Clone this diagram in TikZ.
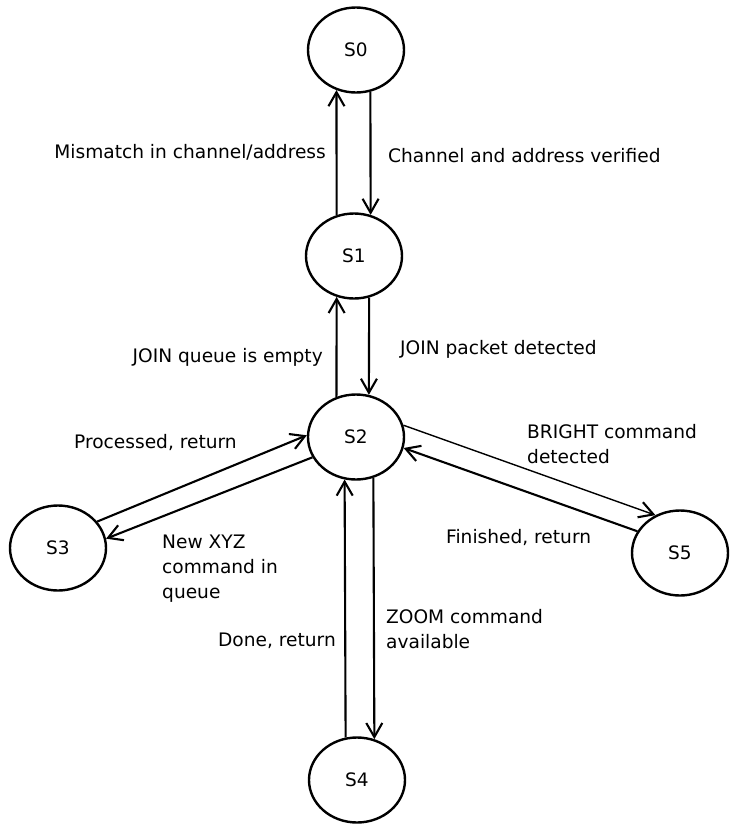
\documentclass[tikz,border=0pt]{standalone}
\usepackage{fontspec}
\setmainfont{DejaVu Sans}
\usetikzlibrary{shapes.geometric,arrows.meta}

\begin{document}
\begin{tikzpicture}[x = 1pt, y = -1pt,
		state/.style = {ellipse, draw, line width = 2.4pt, minimum width = 96pt, minimum height = 85pt, inner sep = 0pt, font = \fontsize{18.5}{20}\selectfont},
		trans/.style = {line width = 2.1pt, -{Straight Barb[length = 14pt, width = 16pt, line width = 2.1pt]}},
		lbl/.style = {inner sep = 0pt, font = \fontsize{18.6}{25}\selectfont, align = left}]
	\useasboundingbox (0, 0) rectangle (739, 833);
	\node[state] (s0) at (356, 50) {S0};
	\node[state] (s1) at (354, 256) {S1};
	\node[state] (s2) at (356, 437) {S2};
	\node[state] (s3) at (58, 548) {S3};
	\node[state] (s4) at (357, 780) {S4};
	\node[state] (s5) at (680, 553) {S5};
	\draw[trans] (s0.-71) -- (s1.68);
	\draw[trans] (s1.113) -- (s0.-116);
	\draw[trans] (s1.-70) -- (s2.73);
	\draw[trans] (s2.116) -- (s1.-113);
	\draw[trans] (s2.-67) -- (s4.67);
	\draw[trans] (s4.105) -- (s2.-105);
	\draw[trans] (s3.34) -- (s2.178);
	\draw[trans] (s2.205) -- (s3.11);
	\draw[trans, line width = 1.4pt] (s2.14) -- (s5.123);
	\draw[trans] (s5.153) -- (s2.-13);
	\node[lbl, anchor = base east] (mismatch) at (326, 158) {Mismatch in channel/address};
	\node[lbl, anchor = base west] (verified) at (388, 162) {Channel and address verified};
	\node[lbl, anchor = base east] (empty) at (323, 362) {JOIN queue is empty};
	\node[lbl, anchor = base west] (joinpkt) at (400, 354) {JOIN packet detected};
	\node[lbl, anchor = base west] (processed) at (74, 448) {Processed, return};
	\node[lbl, anchor = base west] (bright) at (527, 463) {BRIGHT command\\detected};
	\node[lbl, anchor = base west] (newxyz) at (162, 598) {New XYZ\\command in\\queue};
	\node[lbl, anchor = base west] (finished) at (446, 543) {Finished, return};
	\node[lbl, anchor = base west] (zoom) at (386, 648) {ZOOM command\\available};
	\node[lbl, anchor = base east] (done) at (336, 646) {Done, return};
\end{tikzpicture}
\end{document}
